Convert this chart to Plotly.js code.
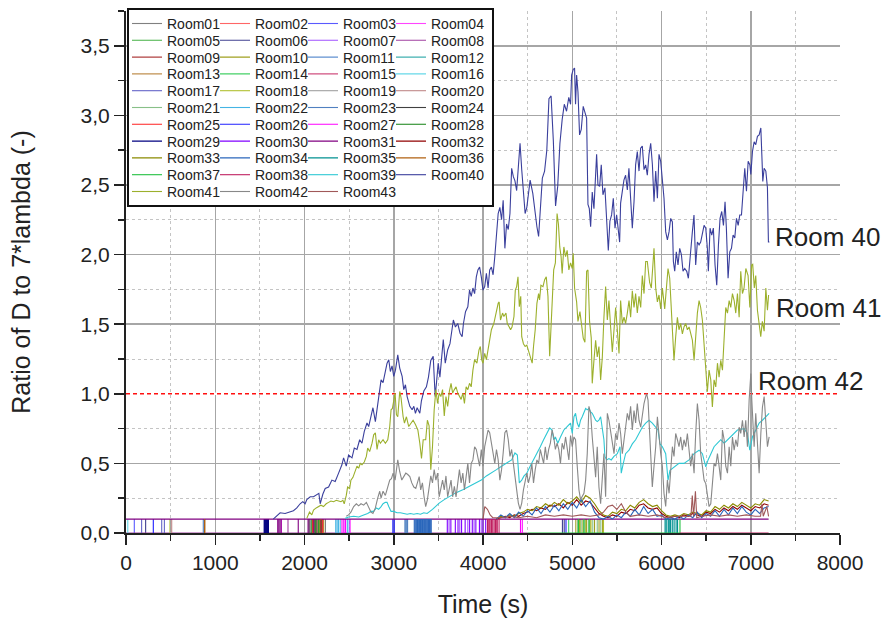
<!DOCTYPE html>
<html><head><meta charset="utf-8">
<script src="https://cdn.plot.ly/plotly-3.0.1.min.js"></script>
<style>html,body{margin:0;padding:0;background:#fff}#chart{width:888px;height:621px}</style>
</head><body><div id="chart"></div>
<script>
// ---------- legend / room definitions ----------
const roomNames = ["Room01","Room02","Room03","Room04","Room05","Room06","Room07","Room08","Room09","Room10",
"Room11","Room12","Room13","Room14","Room15","Room16","Room17","Room18","Room19","Room20",
"Room21","Room22","Room23","Room24","Room25","Room26","Room27","Room28","Room29","Room30",
"Room31","Room32","Room33","Room34","Room35","Room36","Room37","Room38","Room39","Room40",
"Room41","Room42","Room43"];
const roomColors = ["#808080","#ff6666","#5a5aff","#ff44ff","#44b044","#404090","#a050ff","#a040a0","#b04040","#a0a020",
"#6090d0","#40b0b0","#c09050","#44d066","#d05080","#66d8e8","#6464c8","#b0c030","#a0a0a0","#c08888",
"#88c088","#44b4e4","#5080c0","#404040","#ff2020","#2020ff","#ff00ff","#108010","#000080","#8000ff",
"#800080","#900000","#8a8a00","#2a66bb","#009090","#b06010","#22c040","#c02060","#2ec8d4","#3a3f9c",
"#9cb02c","#888888","#a05858"];

// ---------- main series: [time (s), ratio] ----------
const room40 = [[1650,0.10],[1697,0.13],[1727,0.145],[1783,0.14],[1839,0.15],[1876,0.16],[1914,0.18],[1951,0.21],[1981,0.225],[2007,0.21],[2026,0.24],[2064,0.26],[2101,0.26],[2139,0.28],[2161,0.285],[2176,0.21],[2206,0.28],[2232,0.32],[2270,0.33],[2307,0.38],[2344,0.37],[2382,0.43],[2419,0.49],[2438,0.54],[2468,0.48],[2494,0.56],[2532,0.54],[2558,0.61],[2588,0.60],[2618,0.67],[2644,0.645],[2670,0.73],[2700,0.79],[2719,0.765],[2745,0.85],[2767,0.90],[2794,0.80],[2820,0.91],[2843,1.005],[2858,1.10],[2880,1.08],[2906,1.15],[2925,1.22],[2944,1.245],[2962,1.16],[2981,1.20],[3000,1.125],[3019,1.17],[3045,1.28],[3067,1.185],[3094,1.125],[3112,1.03],[3131,1.065],[3150,0.98],[3180,0.91],[3206,0.885],[3225,0.91],[3243,0.86],[3262,0.90],[3292,0.86],[3310,0.95],[3337,1.02],[3366,1.05],[3389,1.12],[3415,1.24],[3442,1.27],[3464,0.98],[3479,1.08],[3498,1.22],[3517,1.12],[3540,1.27],[3555,1.39],[3577,1.22],[3604,1.315],[3630,1.36],[3653,1.46],[3668,1.53],[3691,1.48],[3717,1.505],[3743,1.435],[3766,1.41],[3781,1.505],[3804,1.59],[3830,1.625],[3849,1.745],[3868,1.70],[3887,1.76],[3906,1.72],[3925,1.84],[3943,1.89],[3962,1.91],[3981,1.84],[4000,1.745],[4019,1.77],[4038,1.865],[4057,1.76],[4075,1.89],[4094,1.91],[4113,1.855],[4132,1.985],[4151,2.18],[4170,2.295],[4189,2.34],[4208,2.25],[4226,2.39],[4245,2.045],[4264,2.22],[4283,2.18],[4302,2.295],[4321,2.62],[4340,2.56],[4358,2.53],[4377,2.46],[4396,2.665],[4415,2.80],[4434,2.61],[4453,2.415],[4472,2.295],[4491,2.34],[4509,2.46],[4528,2.535],[4558,2.44],[4585,2.28],[4604,2.20],[4623,2.13],[4642,2.295],[4665,2.55],[4690,2.60],[4715,2.75],[4739,3.12],[4763,3.14],[4788,2.82],[4813,2.35],[4837,2.49],[4862,2.80],[4887,2.97],[4911,3.08],[4936,3.03],[4961,3.13],[4981,3.08],[4993,3.29],[5011,3.33],[5026,3.34],[5037,3.08],[5049,3.29],[5064,3.17],[5082,2.86],[5101,2.90],[5123,3.065],[5138,3.03],[5161,2.98],[5176,2.36],[5191,2.33],[5206,2.20],[5224,2.45],[5243,2.33],[5273,2.72],[5288,2.50],[5307,2.49],[5325,2.645],[5344,2.43],[5366,2.48],[5385,2.285],[5404,2.03],[5422,2.24],[5441,2.285],[5460,2.405],[5479,2.19],[5497,2.285],[5512,2.19],[5531,2.09],[5542,2.37],[5561,2.475],[5579,2.535],[5598,2.57],[5617,2.465],[5635,2.62],[5654,2.355],[5673,2.19],[5692,2.38],[5710,2.645],[5729,2.74],[5748,2.60],[5766,2.765],[5785,2.78],[5804,2.61],[5823,2.645],[5841,2.57],[5860,2.72],[5879,2.80],[5898,2.645],[5916,2.38],[5935,2.60],[5954,2.405],[5972,2.72],[5991,2.67],[6010,2.525],[6028,2.405],[6047,2.165],[6066,2.105],[6085,2.165],[6103,2.26],[6122,2.235],[6133,1.95],[6148,1.88],[6166,2.02],[6185,1.925],[6204,2.045],[6223,2.0],[6241,1.88],[6260,1.90],[6283,1.88],[6301,1.83],[6320,2.0],[6346,2.165],[6364,2.285],[6383,1.925],[6402,2.09],[6421,2.07],[6439,2.09],[6458,2.14],[6477,2.21],[6496,2.19],[6514,2.045],[6525,1.88],[6544,2.19],[6563,2.14],[6581,2.19],[6600,1.925],[6619,1.78],[6638,2.07],[6656,2.26],[6675,2.31],[6694,2.21],[6712,2.38],[6727,2.19],[6746,1.83],[6765,2.02],[6784,2.045],[6802,2.14],[6821,2.12],[6840,2.26],[6859,2.21],[6877,2.285],[6896,2.285],[6915,2.455],[6933,2.62],[6952,2.455],[6971,2.67],[6990,2.645],[7001,2.575],[7019,2.74],[7038,2.81],[7056,2.79],[7075,2.85],[7094,2.86],[7113,2.91],[7124,2.72],[7135,2.525],[7150,2.62],[7169,2.60],[7187,2.48],[7198,2.09],[7209,2.09]];

const room41 = [[2026,0.105],[2056,0.15],[2082,0.13],[2101,0.165],[2131,0.18],[2157,0.19],[2184,0.20],[2213,0.19],[2243,0.21],[2270,0.22],[2296,0.23],[2326,0.225],[2356,0.235],[2382,0.23],[2408,0.225],[2430,0.235],[2445,0.21],[2468,0.27],[2483,0.33],[2506,0.32],[2520,0.38],[2543,0.40],[2569,0.44],[2588,0.48],[2607,0.465],[2625,0.50],[2644,0.49],[2670,0.51],[2693,0.55],[2708,0.61],[2730,0.585],[2757,0.645],[2775,0.705],[2794,0.72],[2813,0.60],[2831,0.67],[2850,0.645],[2880,0.67],[2906,0.645],[2933,0.67],[2955,0.765],[2970,0.885],[2985,0.895],[3000,0.97],[3015,1.005],[3030,0.85],[3045,0.835],[3067,1.017],[3082,0.97],[3105,0.835],[3120,0.79],[3142,0.835],[3168,0.765],[3195,0.79],[3217,0.81],[3243,0.78],[3270,0.74],[3292,0.645],[3311,0.535],[3330,0.67],[3358,0.67],[3377,0.81],[3396,0.77],[3415,0.455],[3434,0.62],[3453,0.885],[3472,1.03],[3491,0.93],[3509,1.005],[3528,0.98],[3547,1.03],[3566,0.84],[3585,0.98],[3604,0.91],[3623,1.017],[3642,1.075],[3660,1.005],[3679,1.03],[3698,1.05],[3717,1.005],[3736,0.98],[3755,0.96],[3774,1.005],[3792,0.93],[3811,1.05],[3830,1.03],[3849,1.075],[3868,1.05],[3887,1.17],[3906,1.245],[3932,1.22],[3955,1.315],[3970,1.34],[3985,1.245],[4000,1.22],[4019,1.29],[4038,1.245],[4057,1.315],[4075,1.36],[4094,1.46],[4121,1.505],[4143,1.58],[4170,1.65],[4181,1.66],[4196,1.53],[4219,1.58],[4234,1.555],[4257,1.58],[4272,1.505],[4294,1.48],[4309,1.46],[4325,1.48],[4347,1.555],[4362,1.745],[4377,1.77],[4392,1.84],[4407,1.625],[4423,1.70],[4434,1.41],[4453,1.36],[4472,1.34],[4491,1.35],[4509,1.315],[4528,1.27],[4551,1.22],[4566,1.34],[4585,1.46],[4604,1.65],[4623,1.72],[4634,1.675],[4649,1.78],[4672,1.77],[4691,1.82],[4709,1.84],[4728,1.70],[4747,1.27],[4762,1.505],[4777,1.70],[4792,1.89],[4811,1.94],[4830,2.295],[4845,2.22],[4860,2.055],[4875,1.985],[4887,1.865],[4906,2.055],[4925,1.985],[4943,2.03],[4962,1.89],[4981,1.94],[5000,1.90],[5011,2.01],[5026,1.76],[5049,1.66],[5064,1.52],[5086,1.59],[5105,1.47],[5123,1.40],[5142,1.37],[5161,1.88],[5176,1.89],[5194,1.52],[5213,1.40],[5224,1.075],[5243,1.24],[5262,1.385],[5280,1.265],[5299,1.34],[5318,1.10],[5337,1.265],[5355,1.55],[5374,1.77],[5393,1.53],[5411,1.67],[5430,1.48],[5449,1.30],[5468,1.46],[5486,1.62],[5505,1.46],[5524,1.29],[5542,1.67],[5561,1.505],[5580,1.55],[5598,1.505],[5617,1.58],[5636,1.67],[5654,1.55],[5673,1.74],[5692,1.62],[5710,1.72],[5729,1.58],[5748,1.70],[5767,1.62],[5785,1.85],[5804,1.72],[5823,1.95],[5841,1.95],[5867,1.80],[5886,1.76],[5916,2.045],[5935,1.76],[5954,1.66],[5972,1.71],[5991,1.61],[6010,1.76],[6036,1.61],[6055,1.76],[6073,1.90],[6092,1.83],[6114,1.565],[6133,1.325],[6140,1.24],[6159,1.41],[6178,1.55],[6196,1.46],[6215,1.505],[6234,1.43],[6252,1.48],[6271,1.505],[6290,1.46],[6309,1.48],[6327,1.43],[6346,1.385],[6365,1.24],[6383,1.41],[6402,1.58],[6421,1.67],[6439,1.62],[6458,1.53],[6477,1.34],[6496,1.19],[6514,1.015],[6533,1.17],[6552,1.10],[6570,0.905],[6589,1.10],[6608,1.05],[6627,1.22],[6645,1.12],[6664,1.24],[6683,1.17],[6702,1.41],[6720,1.62],[6739,1.58],[6758,1.67],[6776,1.62],[6795,1.72],[6814,1.67],[6832,1.58],[6851,1.72],[6870,1.55],[6888,1.88],[6907,1.72],[6925,1.76],[6945,1.90],[6970,1.85],[6990,1.62],[7010,1.925],[7022,1.93],[7040,1.76],[7056,1.85],[7075,1.60],[7094,1.52],[7112,1.41],[7130,1.52],[7150,1.45],[7169,1.76],[7187,1.60],[7200,1.71]];

const room42 = [[2468,0.12],[2494,0.13],[2520,0.15],[2551,0.19],[2581,0.21],[2607,0.195],[2633,0.21],[2663,0.20],[2693,0.22],[2719,0.19],[2745,0.15],[2767,0.14],[2794,0.18],[2820,0.25],[2843,0.30],[2858,0.25],[2880,0.30],[2906,0.27],[2933,0.33],[2955,0.38],[2974,0.39],[2993,0.43],[3015,0.38],[3030,0.465],[3045,0.525],[3067,0.44],[3090,0.38],[3112,0.405],[3135,0.43],[3157,0.42],[3180,0.405],[3202,0.36],[3225,0.33],[3247,0.32],[3270,0.38],[3285,0.405],[3302,0.31],[3321,0.36],[3340,0.26],[3358,0.19],[3377,0.24],[3396,0.335],[3415,0.41],[3434,0.36],[3453,0.455],[3472,0.38],[3491,0.43],[3509,0.26],[3528,0.31],[3547,0.38],[3566,0.31],[3585,0.41],[3604,0.26],[3623,0.31],[3642,0.38],[3660,0.26],[3679,0.335],[3698,0.26],[3717,0.36],[3736,0.455],[3755,0.36],[3774,0.43],[3792,0.31],[3811,0.41],[3830,0.50],[3849,0.36],[3868,0.50],[3887,0.525],[3906,0.62],[3925,0.60],[3943,0.525],[3962,0.48],[3981,0.60],[4000,0.48],[4019,0.62],[4038,0.69],[4057,0.74],[4075,0.72],[4094,0.645],[4113,0.60],[4132,0.50],[4151,0.60],[4170,0.525],[4189,0.38],[4208,0.455],[4226,0.575],[4245,0.72],[4264,0.74],[4283,0.67],[4302,0.55],[4321,0.60],[4340,0.50],[4358,0.41],[4377,0.31],[4396,0.215],[4415,0.17],[4434,0.215],[4453,0.31],[4472,0.38],[4491,0.43],[4509,0.36],[4528,0.41],[4547,0.50],[4566,0.36],[4585,0.455],[4604,0.525],[4623,0.50],[4642,0.60],[4660,0.55],[4679,0.50],[4698,0.62],[4717,0.525],[4736,0.60],[4755,0.645],[4774,0.74],[4792,0.69],[4811,0.60],[4830,0.645],[4849,0.60],[4868,0.50],[4887,0.645],[4906,0.60],[4925,0.69],[4943,0.60],[4962,0.525],[4981,0.70],[5000,0.62],[5019,0.69],[5037,0.67],[5056,0.48],[5075,0.31],[5093,0.24],[5112,0.26],[5131,0.285],[5150,0.38],[5168,0.57],[5187,0.91],[5206,0.86],[5224,0.69],[5243,0.52],[5262,0.40],[5280,0.62],[5299,0.33],[5318,0.21],[5337,0.38],[5355,0.57],[5374,0.26],[5393,0.86],[5411,0.81],[5430,0.74],[5449,0.67],[5468,0.57],[5486,0.715],[5505,0.67],[5524,0.79],[5542,0.715],[5561,0.57],[5580,0.69],[5598,0.76],[5617,0.86],[5636,0.81],[5654,0.91],[5673,0.74],[5692,0.88],[5710,0.79],[5729,0.93],[5748,0.81],[5767,0.76],[5785,0.86],[5804,0.93],[5823,0.98],[5834,1.00],[5849,0.955],[5864,0.74],[5879,0.48],[5897,0.33],[5916,0.48],[5935,0.62],[5954,0.835],[5972,0.69],[5991,0.57],[6010,0.48],[6028,0.285],[6047,0.19],[6066,0.38],[6085,0.285],[6103,0.48],[6122,0.62],[6140,0.55],[6159,0.715],[6178,0.67],[6196,0.62],[6215,0.69],[6234,0.595],[6252,0.67],[6271,0.62],[6290,0.715],[6309,0.57],[6327,0.48],[6346,0.57],[6365,0.43],[6383,0.715],[6402,0.93],[6421,0.81],[6439,0.57],[6458,0.48],[6477,0.38],[6496,0.355],[6514,0.285],[6533,0.19],[6552,0.21],[6570,0.355],[6589,0.50],[6608,0.48],[6627,0.57],[6645,0.48],[6664,0.38],[6683,0.74],[6702,0.67],[6720,0.48],[6739,0.43],[6758,0.62],[6776,0.48],[6795,0.69],[6814,0.595],[6832,0.67],[6851,0.62],[6870,0.76],[6888,0.715],[6907,0.81],[6926,0.69],[6944,0.81],[6963,0.62],[6982,0.955],[7001,1.145],[7012,0.955],[7023,0.81],[7038,0.62],[7056,0.86],[7075,0.62],[7094,0.43],[7113,0.715],[7131,0.905],[7150,0.98],[7169,0.76],[7187,0.62],[7206,0.69]];

const room39 = [[2457,0.105],[2494,0.115],[2551,0.12],[2607,0.115],[2663,0.13],[2708,0.14],[2745,0.155],[2775,0.155],[2805,0.18],[2831,0.17],[2858,0.19],[2880,0.21],[2906,0.22],[2925,0.22],[2944,0.19],[2970,0.155],[3000,0.155],[3037,0.145],[3075,0.145],[3112,0.14],[3150,0.135],[3187,0.14],[3225,0.135],[3262,0.14],[3300,0.135],[3337,0.145],[3374,0.14],[3434,0.17],[3509,0.215],[3566,0.24],[3623,0.26],[3698,0.29],[3774,0.31],[3849,0.335],[3925,0.36],[3981,0.38],[4038,0.41],[4094,0.43],[4151,0.455],[4208,0.48],[4264,0.50],[4321,0.525],[4358,0.575],[4385,0.56],[4407,0.36],[4434,0.38],[4460,0.41],[4491,0.43],[4528,0.48],[4566,0.525],[4604,0.575],[4642,0.62],[4679,0.67],[4717,0.72],[4747,0.755],[4774,0.74],[4792,0.67],[4811,0.69],[4838,0.645],[4868,0.69],[4906,0.74],[4943,0.765],[4981,0.79],[5000,0.715],[5019,0.835],[5037,0.86],[5056,0.79],[5075,0.76],[5093,0.81],[5112,0.835],[5131,0.86],[5150,0.895],[5168,0.885],[5187,0.895],[5206,0.87],[5224,0.86],[5243,0.835],[5262,0.81],[5280,0.80],[5299,0.81],[5318,0.835],[5337,0.76],[5355,0.67],[5366,0.55],[5385,0.525],[5411,0.535],[5437,0.525],[5467,0.55],[5505,0.57],[5535,0.62],[5549,0.43],[5572,0.50],[5598,0.57],[5636,0.595],[5673,0.64],[5710,0.67],[5748,0.715],[5785,0.76],[5823,0.79],[5860,0.81],[5897,0.79],[5935,0.76],[5961,0.74],[5983,0.64],[6010,0.62],[6047,0.57],[6073,0.38],[6095,0.45],[6140,0.475],[6196,0.50],[6252,0.50],[6309,0.525],[6365,0.57],[6421,0.595],[6458,0.57],[6496,0.475],[6522,0.525],[6552,0.57],[6589,0.62],[6627,0.645],[6664,0.67],[6702,0.645],[6739,0.67],[6776,0.69],[6814,0.715],[6851,0.74],[6888,0.745],[6926,0.75],[6963,0.715],[6989,0.595],[7019,0.69],[7056,0.74],[7094,0.79],[7131,0.81],[7169,0.835],[7206,0.86]];

// low band series (Room32, Room33, Room34 share the same time stamps)
const lowTime = [4150,4200,4250,4300,4350,4400,4450,4500,4550,4600,4650,4700,4750,4800,4850,4900,4950,5000,5050,5100,5150,5200,5250,5300,5350,5400,5450,5500,5550,5600,5650,5700,5750,5800,5850,5900,5950,6000,6050,6100,6150,6200,6250,6300,6350,6400,6450,6500,6550,6600,6650,6700,6750,6800,6850,6900,6950,7000,7050,7100,7150,7200];
const room32 = [0.10,0.11,0.12,0.11,0.13,0.12,0.14,0.15,0.17,0.16,0.18,0.17,0.20,0.19,0.21,0.18,0.22,0.20,0.24,0.20,0.23,0.22,0.18,0.14,0.12,0.11,0.13,0.12,0.15,0.14,0.17,0.16,0.20,0.21,0.18,0.17,0.18,0.14,0.12,0.11,0.12,0.11,0.13,0.12,0.14,0.13,0.12,0.15,0.14,0.17,0.15,0.18,0.16,0.19,0.17,0.20,0.18,0.16,0.19,0.18,0.21,0.20];
const room33 = [0.10,0.12,0.11,0.13,0.12,0.14,0.15,0.17,0.16,0.19,0.18,0.21,0.19,0.22,0.20,0.24,0.21,0.23,0.26,0.22,0.27,0.25,0.21,0.16,0.13,0.12,0.15,0.14,0.17,0.16,0.20,0.18,0.22,0.24,0.21,0.19,0.20,0.16,0.13,0.12,0.13,0.12,0.14,0.13,0.15,0.14,0.13,0.16,0.15,0.19,0.17,0.20,0.18,0.21,0.19,0.22,0.20,0.18,0.21,0.20,0.24,0.23];
const room34 = [0.10,0.13,0.11,0.14,0.11,0.15,0.12,0.16,0.13,0.18,0.14,0.19,0.15,0.20,0.16,0.21,0.17,0.22,0.18,0.24,0.19,0.23,0.15,0.11,0.10,0.12,0.10,0.13,0.11,0.15,0.12,0.17,0.13,0.19,0.14,0.17,0.12,0.13,0.10,0.11,0.10,0.12,0.10,0.13,0.11,0.15,0.11,0.14,0.12,0.16,0.12,0.17,0.13,0.18,0.14,0.19,0.15,0.13,0.17,0.14,0.18,0.19];
const room43 = [[4000,0.10],[4020,0.19],[4050,0.17],[4080,0.13],[4110,0.11],[4200,0.11],[4300,0.12],[4400,0.11],[4500,0.12],[4600,0.11],[4700,0.13],[4800,0.12],[4900,0.13],[5000,0.12],[5100,0.13],[5200,0.12],[5300,0.13],[5350,0.15],[5400,0.19],[5450,0.20],[5500,0.17],[5550,0.21],[5600,0.15],[5650,0.12],[5750,0.13],[5850,0.12],[5950,0.13],[6050,0.11],[6150,0.12],[6250,0.12],[6330,0.12],[6345,0.27],[6360,0.12],[6380,0.30],[6395,0.11],[6450,0.12],[6550,0.13],[6650,0.12],[6750,0.13],[6850,0.12],[6950,0.13],[7050,0.12],[7110,0.12],[7125,0.21],[7140,0.12],[7180,0.19],[7200,0.12]];

// ---------- near-floor rooms: switching times between 0 and 0.1 (s) ----------
const bandLevels = [0, 0.1];
const switchTimes = {
  Room01:[2235], Room02:[2100], Room04:[1742,2455], Room05:[2110,2150], Room11:[3135,3300],
  Room19:[500], Room25:[2095,2205], Room36:[880,2185],
  Room16:[20], Room03:[93], Room17:[175,400,430], Room06:[220,4890,4910], Room26:[306,2990,3005,4930],
  Room18:[493,5090,5150,5210,5350], Room20:[512], Room23:[866,3125,3140,3155], Room13:[885],
  Room29:[1548,1554,1560,1566,1572,1578,1584,1590,1596],
  Room31:[1700,1712,1725,1738,1930,2040,2105,2180], Room08:[1815,2060,2200], Room28:[2075,2120,2160],
  Room09:[2090,2140], Room10:[2170,2215,5040,5080,5120,5160,5200,5250,5300,5340], Room24:[2050,2130,2190],
  Room22:[2350,2365,2380,2400,2480,2500], Room27:[2420,2440,2460,2510,4420,4440],
  Room34:[3230,3240,3250,3258,3266,3274,3282,3290,3298,3306,3314,3322,3330,3338,3346,3354,3362,3370,3380,3390,3400,3410,3420],
  Room30:[3600,3640,3690,3720,3760,3800,3850,3880,3920,3960,4000,4030],
  Room07:[3620,3740,3830,3900,3980], Room38:[4050,4065,4080,4095,4110,4125,4140,4160,4180],
  Room15:[4070,4100,4150], Room14:[4960], Room21:[5060,5100,5140,5180,5230,5280,5320],
  Room35:[6040,6060,6080,6100,6120,6150,6180], Room12:[6050,6090,6130,6170], Room37:[5070,5130,5190,6207]
};
// flat stretches lying on the 0 / 0.1 levels: [start, end, level]
const flatStretches = {
  Room08:[[0,4500,0]], Room31:[[0,7200,0.1]], Room37:[[4500,6207,0]], Room38:[[6207,7200,0]]
};

// ---------- annotations ----------
const labelTexts = ["Room 40","Room 41","Room 42"];
const labelX = [7249, 7260, 7059];
const labelY = [2.13, 1.62, 1.09];
const threshold = 1.0;

// ---------- build traces ----------
const pairMap = {Room39:room39, Room40:room40, Room41:room41, Room42:room42, Room43:room43};
const lowMap = {Room32:room32, Room33:room33, Room34:room34};
const traces = roomNames.map((name, i) => {
  let x = [], y = [];
  if (pairMap[name]) { pairMap[name].forEach(p => { x.push(p[0]); y.push(p[1]); }); }
  else if (lowMap[name]) {
    (switchTimes[name] || []).forEach(t => { x.push(t, t, null); y.push(bandLevels[0], bandLevels[1], null); });
    lowTime.forEach((t, k) => { x.push(t); y.push(lowMap[name][k]); });
  } else {
    (flatStretches[name] || []).forEach(s => { x.push(s[0], s[1], null); y.push(s[2], s[2], null); });
    (switchTimes[name] || []).forEach(t => { x.push(t, t, null); y.push(bandLevels[0], bandLevels[1], null); });
  }
  const row = Math.floor(i / 4);
  const t = {
    type: 'scatter', mode: 'lines', name: name, x: x, y: y,
    line: {color: roomColors[i], width: 1.1},
    connectgaps: false, cliponaxis: false,
    legend: row === 0 ? 'legend' : 'legend' + (row + 1),
    hoverinfo: 'skip'
  };
  if (i % 4 === 3 || i === roomNames.length - 1) t.legendwidth = 62;
  return t;
});

const FONT = 'Liberation Sans, Arial, sans-serif';
const layout = {
  width: 888, height: 621,
  margin: {l: 126, r: 48, t: 11, b: 88, autoexpand: false},
  paper_bgcolor: '#ffffff', plot_bgcolor: '#ffffff',
  separators: ',.',
  font: {family: FONT, color: '#222222'},
  showlegend: true,
  xaxis: {
    range: [0, 8000], tickmode: 'linear', tick0: 0, dtick: 1000,
    ticks: 'outside', ticklen: 10, tickwidth: 1.5, tickcolor: '#222',
    showline: true, linecolor: '#222', linewidth: 2, layer: 'below traces',
    showgrid: true, gridcolor: '#a6a6a6', gridwidth: 1.5, zeroline: false,
    minor: {dtick: 500, ticks: 'outside', ticklen: 6, tickwidth: 1.5, tickcolor: '#222',
            showgrid: true, gridcolor: '#c4c4c4', griddash: 'dot', gridwidth: 1},
    tickfont: {size: 21, family: FONT, color: '#222'},
    title: {text: 'Time (s)', font: {size: 25, family: FONT, color: '#222'}, standoff: 22},
    automargin: false, fixedrange: true
  },
  yaxis: {
    range: [0, 3.75], tickmode: 'linear', tick0: 0, dtick: 0.5, tickformat: '.1f',
    ticks: 'outside', ticklen: 10, tickwidth: 1.5, tickcolor: '#222',
    showline: true, linecolor: '#222', linewidth: 2, layer: 'below traces',
    showgrid: true, gridcolor: '#a6a6a6', gridwidth: 1.5, zeroline: false,
    minor: {dtick: 0.25, ticks: 'outside', ticklen: 6, tickwidth: 1.5, tickcolor: '#222',
            showgrid: true, gridcolor: '#c4c4c4', griddash: 'dot', gridwidth: 1},
    tickfont: {size: 21, family: FONT, color: '#222'},
    title: {text: 'Ratio of D to 7*lambda (-)', font: {size: 25, family: FONT, color: '#222'}, standoff: 43},
    automargin: false, fixedrange: true
  },
  shapes: [
    {type: 'line', xref: 'x', yref: 'y', x0: 0, x1: 8000, y0: threshold, y1: threshold,
     line: {color: '#ffffff', width: 2.5}, layer: 'between'},
    {type: 'line', xref: 'x', yref: 'y', x0: 0, x1: 8000, y0: threshold, y1: threshold,
     line: {color: '#ff1010', width: 1.4, dash: '4px,3px'}, layer: 'between'},
    {type: 'rect', xref: 'paper', yref: 'paper', x0: 0.0028, x1: 0.514, y0: 0.6264, y1: 1.0038,
     line: {color: '#111', width: 2}, fillcolor: '#ffffff', layer: 'above'}
  ],
  annotations: labelTexts.map((t, k) => ({
    text: t, x: labelX[k], y: labelY[k], xref: 'x', yref: 'y', xanchor: 'left', yanchor: 'middle',
    showarrow: false, font: {size: 26, family: FONT, color: '#222'}
  }))
};
for (let r = 0; r < 11; r++) {
  const key = r === 0 ? 'legend' : 'legend' + (r + 1);
  const topPx = 7.9 + 16.8 * r;
  layout[key] = {
    orientation: 'h', x: 0.0014, xanchor: 'left', y: (533 - topPx) / 522, yanchor: 'top',
    bgcolor: 'rgba(0,0,0,0)', borderwidth: 0, entrywidth: 43, entrywidthmode: 'pixels',
    itemwidth: 30, tracegroupgap: 0, traceorder: 'normal',
    font: {size: 14, family: FONT, color: '#222'}, itemclick: false, itemdoubleclick: false
  };
}
Plotly.newPlot('chart', traces, layout, {staticPlot: true, displayModeBar: false});
</script>
</body></html>
